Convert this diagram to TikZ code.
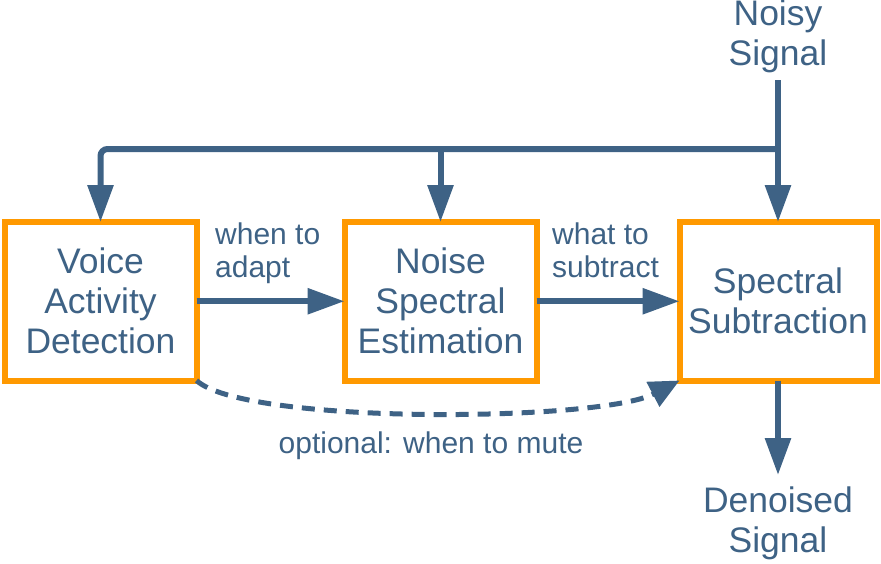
\documentclass[tikz,border=0pt]{standalone}
\usepackage{fontspec}
\setmainfont{Liberation Sans}
\usetikzlibrary{arrows.meta,calc,positioning}
\definecolor{sigblue}{RGB}{62,98,133}
\definecolor{boxorange}{RGB}{255,153,0}
\tikzset{sig/.style={line width=6pt, draw=sigblue, -{Triangle[length=37pt,width=25pt]}},
  opt/.style={line width=5pt, draw=sigblue, dash pattern=on 13pt off 9pt, -{Triangle[length=30pt,width=27pt]}},
  blk/.style={draw=boxorange, line width=6pt, outer sep=0pt, minimum width=192pt, minimum height=158.5pt,
    align=center, text=sigblue, font=\fontsize{35.5}{40}\selectfont},
  term/.style={text=sigblue, align=center, font=\fontsize{35.5}{40}\selectfont},
  lbl/.style={text=sigblue, align=left, inner sep=0pt, font=\fontsize{30}{33}\selectfont}}

\begin{document}
\begin{tikzpicture}[x=1pt, y=-1pt]
  \useasboundingbox (0,0) rectangle (881,563);
  % blocks
  \node[blk] (vad) at (100.5,301.25) {Voice\\Activity\\Detection};
  \node[blk] (nse) at (440.5,301.25) {Noise\\Spectral\\Estimation};
  \node[blk, minimum width=197pt] (ss) at (778,301.25) {Spectral\\Subtraction};
  % input and output
  \node[term, anchor=south, inner sep=0pt] (noisy) at (778,73.5) {Noisy\\Signal};
  \node[term, anchor=north, inner sep=12pt] (clean) at (778,475) {Denoised\\Signal};
  \coordinate (tap) at (noisy.south |- 0,149);
  \draw[sig] ([yshift=-6.5pt]noisy.south) -- (ss.north);
  \draw[sig, rounded corners=7pt] (tap) -| (vad.north);
  \draw[sig] (nse.north |- tap) -- (nse.north);
  \draw[sig] (ss.south) -- (clean.north);
  % between blocks
  \draw[sig] (vad.east) -- (nse.west);
  \draw[sig] (nse.east) -- (ss.west);
  \node[lbl, anchor=north west] (adapt) at (215,223) {when to\\adapt};
  \node[lbl, anchor=north west] (subtr) at (552,223) {what to\\subtract};
  \draw[opt] (vad.south east) .. controls (245,425) and (600,422) .. (ss.south west);
  \node[lbl, anchor=base] (mute) at (431,453) {optional: when to mute};
\end{tikzpicture}
\end{document}
